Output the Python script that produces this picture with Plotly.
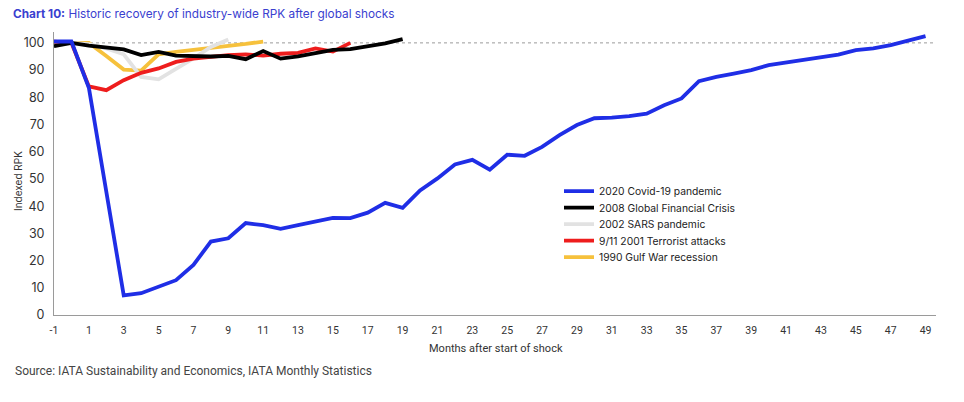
import plotly.graph_objects as go

months_covid = list(range(-1, 50))
covid = [100.5, 100.5, 83.5, 45, 7.2, 8, 10.5, 12.8, 18.4, 27, 28.2, 33.8, 33, 31.7, 33,
         34.3, 35.7, 35.6, 37.6, 41.2, 39.4, 45.8, 50.2, 55.3, 57, 53.4, 58.9, 58.5, 61.8,
         66.1, 69.8, 72.3, 72.5, 73.1, 74, 77.1, 79.6, 85.9, 87.5, 88.7, 90, 91.8, 92.8,
         94, 95, 95.7, 97.3, 98, 99.2, 100.8, 102.5]

months_gfc = list(range(-1, 20))
gfc = [98.8, 100, 99, 98.2, 97.6, 95.5, 96.7, 95.3, 95, 95, 95.2, 94, 97, 94.2, 95,
       96.3, 97.4, 97.7, 98.8, 99.8, 101.4]

months_sars = list(range(-1, 10))
sars = [98.8, 100, 99.5, 98, 95.8, 87.5, 86.6, 90.3, 94.3, 98.5, 101.2]

months_911 = list(range(-1, 17))
sept11 = [100.5, 100, 84, 82.6, 86.3, 89, 90.6, 93, 94.2, 95, 95.5, 95.8, 95.3, 96,
          96.3, 98, 96.8, 100]

months_gulf = list(range(-1, 12))
gulf = [100, 100, 100, 95.2, 90.2, 89.8, 95.8, 96.7, 97.4, 98, 98.8, 99.6, 100.5]

x_ticks = list(range(-1, 50, 2))
y_ticks = list(range(0, 101, 10))

names = ["2020 Covid-19 pandemic", "2008 Global Financial Crisis", "2002 SARS pandemic",
         "9/11 2001 Terrorist attacks", "1990 Gulf War recession"]
colors = ["#1f2ee6", "#000000", "#e2e2e2", "#ee1d1d", "#f6c13c"]

W, H = 964, 402
L, R, T, B = 54, 28, 32, 87
pw = W - L - R
ph = H - T - B


def px_x(px):
    return (px - L) / pw


def px_y(py):
    return (H - B - py) / ph


legend_ids = ["legend", "legend2", "legend3", "legend4", "legend5"]
legend_rows = [190.7, 207.2, 223.7, 240.2, 256.7]

fig = go.Figure()
# drawing order: yellow, grey, red, black, blue
series = [
    (months_gulf, gulf, 4),
    (months_sars, sars, 2),
    (months_911, sept11, 3),
    (months_gfc, gfc, 1),
    (months_covid, covid, 0),
]
for xs, ys, idx in series:
    fig.add_trace(go.Scatter(
        x=xs, y=ys, mode="lines", name=names[idx],
        line=dict(color=colors[idx], width=3.8),
        legend=legend_ids[idx],
        hoverinfo="skip",
    ))

fig.add_shape(type="line", xref="paper", yref="y", x0=0, x1=1, y0=100, y1=100,
              line=dict(color="#9a9a9a", width=1, dash="dot"), layer="below")

legend_common = dict(xanchor="left", yanchor="top", font=dict(size=10.3, color="#222222"),
                     bgcolor="rgba(0,0,0,0)", itemwidth=30)
legend_layout = {}
for lid, row in zip(legend_ids, legend_rows):
    legend_layout[lid] = dict(x=px_x(559), y=px_y(row - 14), **legend_common)

fig.update_layout(
    width=W, height=H,
    margin=dict(l=L, r=R, t=T, b=B),
    plot_bgcolor="white", paper_bgcolor="white",
    font=dict(family="Inter, Roboto, sans-serif", color="#333333"),
    showlegend=True,
    title=dict(text="<b>Chart 10:</b> Historic recovery of industry-wide RPK after global shocks",
               x=13 / W, xref="container", xanchor="left",
               y=1 - 14 / H, yref="container", yanchor="middle",
               font=dict(size=11.8, color="#3a40cf", family="Inter, Roboto, sans-serif")),
    xaxis=dict(range=[-1, 49.6], tickmode="array", tickvals=x_ticks,
               ticktext=[str(v) for v in x_ticks], showgrid=False, zeroline=False,
               showline=True, linecolor="#9a9a9a", linewidth=1, ticks="",
               ticklabelstandoff=5,
               tickfont=dict(size=10.5, color="#333333",
                             family="Liberation Sans Narrow, Roboto, sans-serif")),
    yaxis=dict(range=[0, 104], tickmode="array", tickvals=y_ticks, showgrid=False,
               zeroline=False, showline=True, linecolor="#9a9a9a", linewidth=1, ticks="",
               ticklabelstandoff=6,
               tickfont=dict(size=12.5, color="#333333")),
    **legend_layout,
)

fig.add_annotation(text="Indexed RPK", xref="paper", yref="paper", x=px_x(18), y=px_y(181),
                   textangle=-90, showarrow=False, xanchor="center", yanchor="middle",
                   font=dict(size=10, color="#333333"))
fig.add_annotation(text="Months after start of shock", xref="paper", yref="paper",
                   x=px_x(496), y=px_y(348), showarrow=False, xanchor="center", yanchor="middle",
                   font=dict(size=11, color="#333333",
                             family="Liberation Sans Narrow, Roboto, sans-serif"))
fig.add_annotation(text="Source: IATA Sustainability and Economics, IATA Monthly Statistics",
                   xref="paper", yref="paper", x=px_x(13), y=px_y(371), showarrow=False,
                   xanchor="left", yanchor="middle",
                   font=dict(size=12, color="#444444",
                             family="Liberation Sans Narrow, Roboto, sans-serif"))

fig.write_html("out.html", post_script="document.body.style.margin='0';",
               config={"displayModeBar": False})
